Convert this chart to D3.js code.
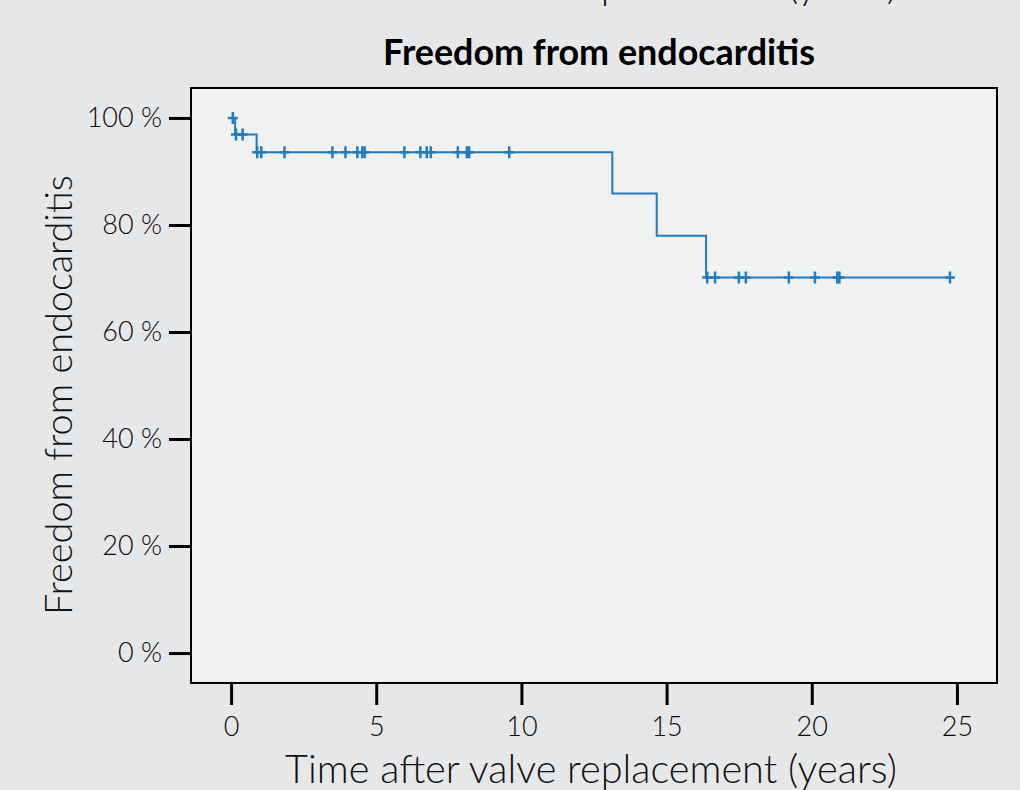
<!DOCTYPE html>
<html>
<head>
<meta charset="utf-8">
<script src="https://cdn.jsdelivr.net/npm/d3@7"></script>
<style>
  body { margin: 0; background: #e6e7e9; }
  svg { display: block; font-family: Lato, "Open Sans", sans-serif; }
  .tick text { fill: #0a0a0a; }
</style>
</head>
<body>
<svg width="1020" height="790"></svg>
<script>
// step levels of the survival curve (time in years, % free)
var stepTimes = [0, 0.14, 0.88, 13.13, 14.66, 16.36];
var stepSurvival = [100, 96.9, 93.6, 85.9, 78.0, 70.2];
var lastFollowUp = 24.76;

// censored patients (+ marks)
var censorTimes = [0.06, 0.17, 0.40, 0.90, 1.04, 1.84, 3.49, 3.94, 4.35, 4.52, 4.60,
    5.97, 6.52, 6.74, 6.88, 7.81, 8.12, 8.20, 9.58,
    16.40, 16.67, 17.49, 17.73, 19.21, 20.11, 20.88, 20.95, 24.76];

var xTicks = [0, 5, 10, 15, 20, 25];
var yTicks = [0, 20, 40, 60, 80, 100];

var titleText = "Freedom from endocarditis";
var xLabel = "Time after valve replacement (years)";
var yLabel = "Freedom from endocarditis";

var svg = d3.select("svg"),
    plotLeft = 191, plotRight = 997, plotTop = 88, plotBottom = 683;

var x = d3.scaleLinear().domain([-1.38, 26.38]).range([plotLeft, plotRight]);
var y = d3.scaleLinear().domain([-5.6, 105.6]).range([plotBottom, plotTop]);

// fit text to a given width
function fit(sel, w) {
    var fs = parseFloat(sel.attr("font-size"));
    var len = sel.node().getComputedTextLength();
    sel.attr("font-size", (fs * w / len).toFixed(2));
}

// cut off label from the panel above
svg.append("text")
    .attr("x", 591).attr("y", -1)
    .attr("text-anchor", "middle")
    .attr("font-size", 29).attr("font-weight", 300)
    .attr("fill", "#111")
    .text(xLabel)
    .call(fit, 612);

svg.append("rect")
    .attr("x", plotLeft).attr("y", plotTop)
    .attr("width", plotRight - plotLeft).attr("height", plotBottom - plotTop)
    .attr("fill", "#f0f1f1");

var yAxis = svg.append("g")
    .attr("transform", "translate(" + plotLeft + ",0)")
    .call(d3.axisLeft(y).tickValues(yTicks).tickSize(22).tickPadding(7)
        .tickFormat(function(d) { return d + " %"; }));

var xAxis = svg.append("g")
    .attr("transform", "translate(0," + plotBottom + ")")
    .call(d3.axisBottom(x).tickValues(xTicks).tickSize(22).tickPadding(12));

[xAxis, yAxis].forEach(function(g) {
    g.select(".domain").remove();
    g.selectAll(".tick line").attr("stroke", "#000").attr("stroke-width", 3);
    g.selectAll(".tick text")
        .attr("font-size", 27).attr("font-weight", 300)
        .attr("font-family", "Lato, 'Open Sans', sans-serif");
});

svg.append("rect")
    .attr("x", plotLeft).attr("y", plotTop)
    .attr("width", plotRight - plotLeft).attr("height", plotBottom - plotTop)
    .attr("fill", "none").attr("stroke", "#000").attr("stroke-width", 2);

// step curve
var pts = stepTimes.map(function(t, i) { return [t, stepSurvival[i]]; });
pts.push([lastFollowUp, stepSurvival[stepSurvival.length - 1]]);

var line = d3.line()
    .x(function(d) { return x(d[0]); })
    .y(function(d) { return y(d[1]); })
    .curve(d3.curveStepAfter);

svg.append("path")
    .datum(pts)
    .attr("fill", "none")
    .attr("stroke", "#1f7cc3")
    .attr("stroke-width", 2)
    .attr("d", line);

function survAt(t) {
    var i = d3.bisectRight(stepTimes, t) - 1;
    return stepSurvival[Math.max(i, 0)];
}

svg.append("g")
    .selectAll("path")
    .data(censorTimes)
    .enter().append("path")
    .attr("fill", "none")
    .attr("stroke", "#1f7cc3")
    .attr("stroke-width", 2.5)
    .attr("d", function(t) {
        var cx = x(t), cy = y(survAt(t));
        return "M" + (cx - 5) + "," + cy + "H" + (cx + 5) +
            "M" + cx + "," + (cy - 6) + "V" + (cy + 6);
    });

// titles
svg.append("text")
    .attr("x", 599).attr("y", 65)
    .attr("text-anchor", "middle")
    .attr("font-size", 26).attr("font-weight", 700)
    .attr("fill", "#000")
    .text(titleText)
    .call(fit, 432);

svg.append("text")
    .attr("x", 591).attr("y", 783)
    .attr("text-anchor", "middle")
    .attr("font-size", 29).attr("font-weight", 300)
    .attr("fill", "#111")
    .text(xLabel)
    .call(fit, 612);

svg.append("text")
    .attr("transform", "translate(72,395) rotate(-90)")
    .attr("text-anchor", "middle")
    .attr("font-size", 29).attr("font-weight", 300)
    .attr("fill", "#111")
    .text(yLabel)
    .call(fit, 440);
</script>
</body>
</html>
